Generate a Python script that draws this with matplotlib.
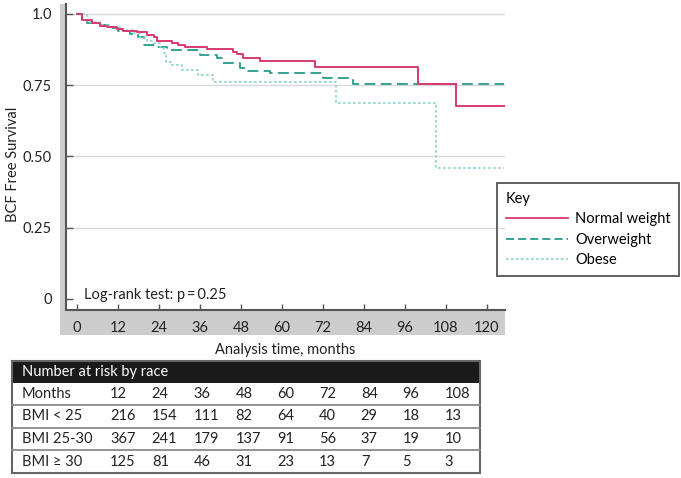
import matplotlib
matplotlib.use("Agg")
import matplotlib.pyplot as plt
from matplotlib.patches import Rectangle
from matplotlib.lines import Line2D

plt.rcParams['font.family'] = ['Lato', 'DejaVu Sans']

# ---------------- data ----------------
normal_t = [0, 1.5, 4.5, 6.7, 8.8, 11.7, 13.5, 17.6, 20.5, 22.5, 23.5, 27.8, 29.6, 31.6,
            38.0, 45.7, 46.8, 48.6, 53.5, 69.6, 99.8, 111.0, 125.0]
normal_s = [1.0, 0.979, 0.969, 0.958, 0.953, 0.948, 0.941, 0.937, 0.927, 0.918, 0.906, 0.897,
            0.890, 0.883, 0.876, 0.867, 0.858, 0.846, 0.834, 0.813, 0.755, 0.678, 0.678]

over_t = [0, 1.5, 2.9, 6.7, 9.7, 12.0, 15.5, 17.9, 19.6, 22.8, 26.3, 36.0, 41.0, 42.7,
          47.7, 49.8, 56.5, 72.0, 80.8, 125.0]
over_s = [1.0, 0.975, 0.968, 0.961, 0.951, 0.940, 0.930, 0.919, 0.891, 0.884, 0.872, 0.857,
          0.846, 0.828, 0.810, 0.800, 0.792, 0.777, 0.755, 0.755]

obese_t = [0, 2.9, 6.7, 9.7, 12.6, 16.4, 18.4, 20.5, 22.2, 24.3, 25.5, 26.0, 27.8, 30.7,
           35.4, 39.8, 75.8, 105.0, 125.0]
obese_s = [1.0, 0.972, 0.961, 0.954, 0.944, 0.933, 0.916, 0.905, 0.898, 0.884, 0.863, 0.833,
           0.821, 0.804, 0.786, 0.763, 0.688, 0.458, 0.458]

series_labels = ['Normal weight', 'Overweight', 'Obese']
x_ticks = [0, 12, 24, 36, 48, 60, 72, 84, 96, 108, 120]
y_ticks = [0, 0.25, 0.50, 0.75, 1.0]
y_ticklabels = ['0', '0.25', '0.50', '0.75', '1.0']

table_title = 'Number at risk by race'
row_labels = ['Months', 'BMI < 25', 'BMI 25-30', 'BMI \u2265 30']
months = [12, 24, 36, 48, 60, 72, 84, 96, 108]
bmi_lt25 = [216, 154, 111, 82, 64, 40, 29, 18, 13]
bmi_25_30 = [367, 241, 179, 137, 91, 56, 37, 19, 10]
bmi_ge30 = [125, 81, 46, 31, 23, 13, 7, 5, 3]

# ---------------- figure ----------------
W, H = 681, 478
fig = plt.figure(figsize=(W / 100, H / 100), dpi=100)

# overlay axes in pixel coordinates for decorations + table
ov = fig.add_axes([0, 0, 1, 1], zorder=0)
ov.set_xlim(0, W)
ov.set_ylim(H, 0)
ov.axis('off')

gray = '#cdcdcd'
ov.add_patch(Rectangle((60, 4), 6, 331, facecolor=gray, edgecolor='none'))
ov.add_patch(Rectangle((60, 310), 445, 25, facecolor=gray, edgecolor='none'))

# main axes
ax = fig.add_axes([66 / W, 1 - 310 / H, (505 - 66) / W, (310 - 4) / H], zorder=1)
ax.patch.set_alpha(0)
ax.set_xlim(-3.2, 125.3)
ax.set_ylim(-0.0386, 1.035)

for y in [0.25, 0.5, 0.75, 1.0]:
    ax.axhline(y, color='#d9d9d9', lw=1.0, zorder=0)

red = '#d93a70'
teal = '#2a9a8c'
light = '#8fd6cc'
ax.step(normal_t, normal_s, where='post', color=red, lw=1.4, label=series_labels[0], zorder=3)
ax.step(over_t, over_s, where='post', color=teal, lw=1.3, dashes=(6, 3),
        label=series_labels[1], zorder=2)
ax.step(obese_t, obese_s, where='post', color=light, lw=1.2, dashes=(1.6, 1.4),
        label=series_labels[2], zorder=2)

for s in ['top', 'right']:
    ax.spines[s].set_visible(False)
for s in ['left', 'bottom']:
    ax.spines[s].set_color('#555555')
    ax.spines[s].set_linewidth(1.5)

ax.set_xticks(x_ticks)
ax.set_yticks(y_ticks)
ax.set_yticklabels(y_ticklabels)
ax.tick_params(axis='both', direction='in', color='#555555', labelsize=10.5,
               labelcolor='#222222', width=1.0)
ax.tick_params(axis='x', length=4, pad=8)
ax.tick_params(axis='y', length=5, pad=10)

ov.text(13, 164, 'BCF Free Survival', fontsize=10.5, color='#222222', rotation=90,
        ha='center', va='center')
ax.set_xlabel('Analysis time, months', fontsize=10.5, color='#222222', labelpad=6)

ov.text(84, 295, 'Log-rank test: p\u2009=\u20090.25', fontsize=10.5, color='#222222',
        va='center', ha='left')

# legend
handles = [Line2D([], [], color=red, lw=1.3),
           Line2D([], [], color=teal, lw=1.3, dashes=(4.5, 2.2)),
           Line2D([], [], color=light, lw=1.2, dashes=(1.6, 1.4))]
leg = fig.legend(handles, series_labels, title='Key', loc='upper left',
                 bbox_to_anchor=(497 / W, 1 - 183 / H), borderaxespad=0,
                 fontsize=10.5, title_fontsize=10.5, frameon=True, fancybox=False,
                 edgecolor='#555555', facecolor='none', handlelength=4.3,
                 handletextpad=0.45, labelspacing=0.45, borderpad=0.6,
                 alignment='left')
leg.get_frame().set_linewidth(1.3)
leg.get_frame().set_alpha(None)

# ---------------- table ----------------
tx0, tx1 = 12, 480
ov.add_patch(Rectangle((tx0, 361), tx1 - tx0, 22, facecolor='#1a1a1a', edgecolor='none'))
ov.text(22, 372, table_title, color='white', fontsize=10.5, va='center', ha='left')
row_edges = [383, 405, 428, 450, 473]
for yl in row_edges[1:-1]:
    ov.plot([tx0, tx1], [yl, yl], color='#8a8a8a', lw=1.3)
ov.add_patch(Rectangle((tx0, 361), tx1 - tx0, 473 - 361, facecolor='none',
                       edgecolor='#666666', lw=1.5))
rows = [months, bmi_lt25, bmi_25_30, bmi_ge30]
col_x = [110 + i * 41.8 for i in range(len(months))]
for r, (lab, vals) in enumerate(zip(row_labels, rows)):
    yc = (row_edges[r] + row_edges[r + 1]) / 2
    ov.text(22, yc, lab, fontsize=10.5, va='center', ha='left', color='#222222')
    for x, v in zip(col_x, vals):
        ov.text(x, yc, str(v), fontsize=10.5, va='center', ha='left', color='#222222')

fig.savefig('out.png', dpi=100)
